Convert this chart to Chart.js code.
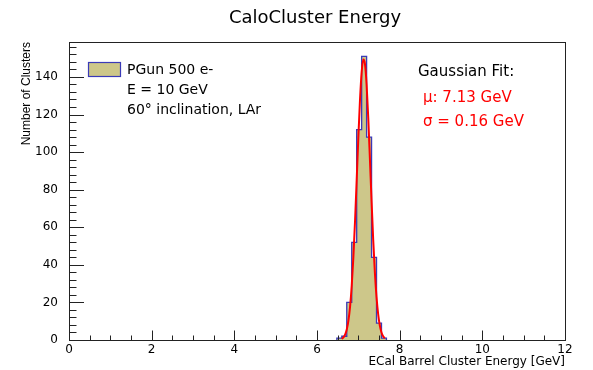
<!DOCTYPE html>
<html>
<head>
<meta charset="utf-8">
<script src="https://cdn.jsdelivr.net/npm/chart.js@4/dist/chart.umd.min.js"></script>
<style>
body { margin: 0; background: #fff; }
</style>
</head>
<body>
<canvas id="grafico" width="593" height="370"></canvas>
<script>
// histogram bins (low edges + last high edge), 0.12 GeV wide
const binEdges = [6.48, 6.60, 6.72, 6.84, 6.96, 7.08, 7.20, 7.32, 7.44, 7.56, 7.68]
const binCounts = [1, 2, 20, 52, 112, 151, 108, 44, 9, 1]

// red fit curve
const fitX = [6.60, 6.64, 6.68, 6.72, 6.76, 6.80, 6.84, 6.88, 6.92, 6.96, 7.00, 7.04, 7.08, 7.12,
              7.16, 7.20, 7.24, 7.28, 7.32, 7.36, 7.40, 7.44, 7.48, 7.52, 7.56, 7.60, 7.64]
const fitY = [0.6, 1.4, 2.9, 5.6, 10.3, 17.8, 28.9, 44.1, 63.2, 85.1, 107.6, 127.7, 142.5, 149.3,
              147.0, 136.0, 118.2, 96.4, 74.0, 53.2, 36.0, 22.9, 13.7, 7.7, 4.0, 2.0, 0.9]

const xTicks = [0, 2, 4, 6, 8, 10, 12]
const yTicks = [0, 20, 40, 60, 80, 100, 120, 140]
const xMax = 12
const yMax = 158.6
const xMinorStep = 0.5
const yMinorStep = 4

const titulo = 'CaloCluster Energy'
const tituloX = 'ECal Barrel Cluster Energy [GeV]'
const tituloY = 'Number of Clusters'
const leyenda = ['PGun 500 e-', 'E = 10 GeV', '60° inclination, LAr']
const textoFit = ['Gaussian Fit:', 'μ: 7.13 GeV', 'σ = 0.16 GeV']

const colorRelleno = '#cdc78a'
const colorBorde = '#3a3ab8'
const fuente = '"DejaVu Sans", sans-serif'

// contorno en escalera: cada bin aporta su borde izquierdo y derecho
const histPoints = [{ x: binEdges[0], y: 0 }]
binCounts.forEach((c, i) => {
	histPoints.push({ x: binEdges[i], y: c })
	histPoints.push({ x: binEdges[i + 1], y: c })
})
histPoints.push({ x: binEdges[binEdges.length - 1], y: 0 })

const fitPoints = fitX.map((x, i) => ({ x, y: fitY[i] }))

const estiloRoot = {
	id: 'estiloRoot',
	beforeDraw(chart) {
		const ctx = chart.ctx
		ctx.save()
		ctx.fillStyle = '#fff'
		ctx.fillRect(0, 0, chart.width, chart.height)
		ctx.restore()
	},
	afterDatasetsDraw(chart) {
		const { ctx, chartArea: a, scales: { x, y } } = chart
		ctx.save()
		ctx.strokeStyle = '#222'
		ctx.lineWidth = 1

		// ticks hacia adentro, como ROOT
		ctx.beginPath()
		for (let v = 0; v <= xMax + 1e-6; v += xMinorStep) {
			const px = Math.round(x.getPixelForValue(v)) + 0.5
			const mayor = xTicks.some(t => Math.abs(t - v) < 1e-6)
			ctx.moveTo(px, a.bottom)
			ctx.lineTo(px, a.bottom - (mayor ? 9.5 : 4.5))
		}
		for (let v = 0; v <= yMax; v += yMinorStep) {
			const py = Math.round(y.getPixelForValue(v)) + 0.5
			const mayor = yTicks.some(t => Math.abs(t - v) < 1e-6)
			ctx.moveTo(a.left, py)
			ctx.lineTo(a.left + (mayor ? 15 : 7.5), py)
		}
		ctx.stroke()

		// marco
		ctx.strokeRect(Math.round(a.left) + 0.5, Math.round(a.top) + 0.5,
			Math.round(a.right - a.left), Math.round(a.bottom - a.top))
		ctx.restore()
	},
	afterDraw(chart) {
		const { ctx, chartArea: a } = chart
		ctx.save()
		ctx.fillStyle = '#000'
		ctx.textBaseline = 'middle'

		ctx.font = '18px ' + fuente
		ctx.textAlign = 'center'
		ctx.fillText(titulo, 315, 18)

		ctx.font = '12px ' + fuente
		ctx.textAlign = 'right'
		ctx.fillText(tituloX, a.right, 362)

		ctx.save()
		ctx.translate(27, a.top)
		ctx.rotate(-Math.PI / 2)
		ctx.font = '12px "Liberation Sans", Arial, sans-serif'
		ctx.textAlign = 'right'
		ctx.fillText(tituloY, 0, 0)
		ctx.restore()

		// leyenda
		ctx.fillStyle = colorRelleno
		ctx.fillRect(88.5, 62.5, 32, 14)
		ctx.strokeStyle = colorBorde
		ctx.lineWidth = 1.2
		ctx.strokeRect(88.5, 62.5, 32, 14)
		ctx.fillStyle = '#000'
		ctx.font = '14px ' + fuente
		ctx.textAlign = 'left'
		leyenda.forEach((t, i) => ctx.fillText(t, 127, 70.5 + i * 19.7))

		// resultado del fit
		ctx.font = '15px ' + fuente
		ctx.fillText(textoFit[0], 418, 72.5)
		ctx.fillStyle = '#ff0000'
		ctx.fillText(textoFit[1], 423, 98.5)
		ctx.fillText(textoFit[2], 423, 122)
		ctx.restore()
	}
}

const ctx = document.getElementById('grafico').getContext('2d')

new Chart(ctx, {
	type: 'line',
	data: {
		datasets: [{
			label: 'Gaussian Fit',
			data: fitPoints,
			borderColor: '#ff0000',
			borderWidth: 2,
			pointRadius: 0,
			cubicInterpolationMode: 'monotone',
			fill: false,
			order: 0
		}, {
			label: 'PGun 500 e-',
			data: histPoints,
			fill: 'origin',
			backgroundColor: colorRelleno,
			borderColor: colorBorde,
			borderWidth: 1.3,
			pointRadius: 0,
			tension: 0,
			order: 1
		}]
	},
	options: {
		responsive: false,
		animation: false,
		devicePixelRatio: 1,
		layout: { padding: { top: 42, right: 28, left: 0, bottom: 0 } },
		plugins: {
			legend: { display: false },
			tooltip: { enabled: false }
		},
		scales: {
			x: {
				type: 'linear',
				min: 0,
				max: xMax,
				grid: { display: false },
				border: { display: false },
				afterBuildTicks: s => { s.ticks = xTicks.map(v => ({ value: v })) },
				afterFit: s => { s.height = 30 },
				ticks: {
					color: '#000',
					font: { family: fuente, size: 12 },
					padding: -5,
					maxRotation: 0,
					autoSkip: false
				}
			},
			y: {
				type: 'linear',
				min: 0,
				max: yMax,
				grid: { display: false },
				border: { display: false },
				afterBuildTicks: s => { s.ticks = yTicks.map(v => ({ value: v })) },
				afterFit: s => { s.width = 69 },
				ticks: {
					color: '#000',
					font: { family: fuente, size: 12 },
					padding: 3
				}
			}
		}
	},
	plugins: [estiloRoot]
})
</script>
</body>
</html>
